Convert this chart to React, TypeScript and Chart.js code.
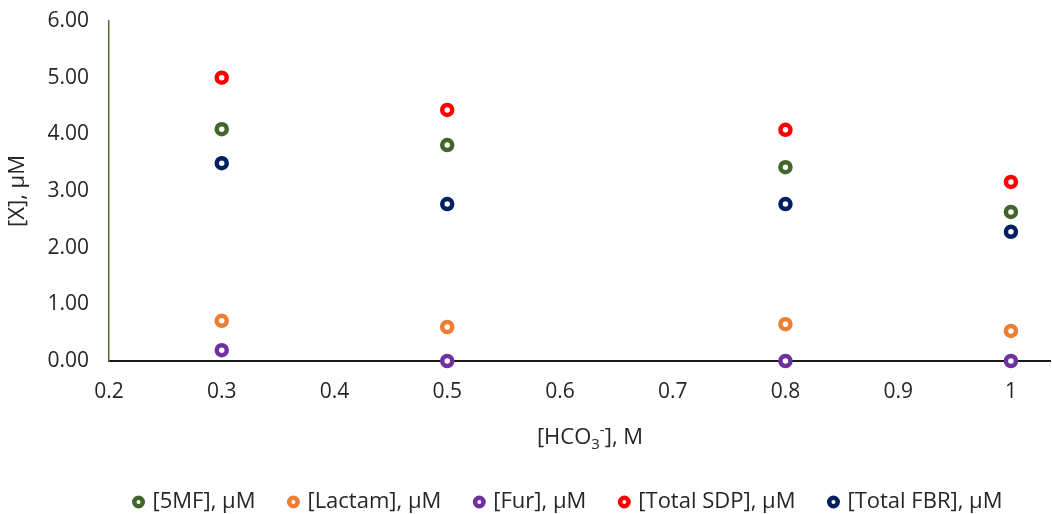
import React, { useEffect, useRef } from "react";
import { Chart, registerables } from "chart.js";

Chart.register(...registerables);

const concentrations = [0.3, 0.5, 0.8, 1.0];
const mf5 = [4.09, 3.81, 3.42, 2.63];
const lactam = [0.71, 0.6, 0.65, 0.53];
const fur = [0.19, 0.0, 0.0, 0.0];
const totalSDP = [5.0, 4.43, 4.08, 3.16];
const totalFBR = [3.49, 2.77, 2.77, 2.28];
const seriesNames = ["[5MF], µM", "[Lactam], µM", "[Fur], µM", "[Total SDP], µM", "[Total FBR], µM"];
const seriesColors = ["#426629", "#ed7d31", "#7030a0", "#ff0000", "#002060"];
const xTicks = [0.2, 0.3, 0.4, 0.5, 0.6, 0.7, 0.8, 0.9, 1];

const FONT = "'Open Sans', 'Noto Sans', sans-serif";
const TEXT = "#262626";
const LEGEND_FONT = 22;
const LEGEND_PAD = 35;

export default function App() {
  const ref = useRef<HTMLCanvasElement | null>(null);
  useEffect(() => {
    document.body.style.margin = "0";
    const seriesValues = [mf5, lactam, fur, totalSDP, totalFBR];
    const datasets = seriesValues.map((vals, i) => ({
      label: seriesNames[i],
      data: vals.map((v, j) => ({ x: concentrations[j], y: v })),
      borderColor: seriesColors[i],
      backgroundColor: "#ffffff",
      pointBackgroundColor: "#ffffff",
      pointBorderColor: seriesColors[i],
      borderWidth: 4,
      pointBorderWidth: 4.5,
      pointRadius: 5,
      pointHoverRadius: 5,
      showLine: false,
      clip: false as any,
    }));
    const xTitlePlugin = {
      id: "xTitle",
      afterLayout(chart: any) {
        const lg = chart.legend;
        if (lg) {
          const newTop = 502 - LEGEND_PAD - LEGEND_FONT / 2;
          lg.top = newTop;
          lg.bottom = 514;
          lg.height = 514 - newTop;
          lg.left += 43;
          lg.right += 43;
        }
      },
      beforeDatasetsDraw(chart: any) {
        const ctx = chart.ctx;
        const a = chart.chartArea;
        ctx.save();
        ctx.strokeStyle = "#1a1a1a";
        ctx.lineWidth = 2;
        ctx.beginPath();
        ctx.moveTo(a.right - 1, a.bottom);
        ctx.lineTo(1051, a.bottom);
        ctx.stroke();
        ctx.restore();
      },
      afterDraw(chart: any) {
        const ctx = chart.ctx;
        ctx.save();
        ctx.fillStyle = TEXT;
        ctx.textBaseline = "alphabetic";
        ctx.textAlign = "left";
        const big = `22px ${FONT}`;
        const small = `15px ${FONT}`;
        const parts = [
          { t: "[HCO", f: big, dy: 0 },
          { t: "3", f: small, dy: 5 },
          { t: "-", f: small, dy: -9 },
          { t: "], M", f: big, dy: 0 },
        ];
        let total = 0;
        parts.forEach((p) => {
          ctx.font = p.f;
          total += ctx.measureText(p.t).width;
        });
        let x = 590 - total / 2;
        const y = 444;
        parts.forEach((p) => {
          ctx.font = p.f;
          ctx.fillText(p.t, x, y + p.dy);
          x += ctx.measureText(p.t).width;
        });
        ctx.restore();
      },
    };
    const chart = new Chart(ref.current!, {
      type: "scatter",
      data: { datasets },
      plugins: [xTitlePlugin],
      options: {
        animation: false,
        responsive: false,
        layout: { padding: { top: 21, right: 0, left: 0, bottom: 0 } },
        plugins: {
          tooltip: { enabled: false },
          legend: {
            position: "bottom",
            maxHeight: 40,
            labels: {
              usePointStyle: true,
              pointStyle: "circle",
              boxWidth: 6,
              boxHeight: 6,
              padding: LEGEND_PAD,
              color: TEXT,
              font: { family: FONT, size: LEGEND_FONT },
            },
          },
        },
        scales: {
          x: {
            type: "linear",
            min: 0.2,
            max: 1.028,
            afterBuildTicks(scale: any) {
              scale.ticks = xTicks.map((v) => ({ value: v }));
            },
            afterFit(scale: any) {
              scale.height = 113;
              scale.paddingLeft = 0;
              scale.paddingRight = 0;
            },
            grid: { display: false, drawTicks: false },
            border: { display: true, color: "#1a1a1a", width: 2 },
            ticks: {
              color: TEXT,
              font: { family: FONT, size: 21 },
              padding: 18,
              maxRotation: 0,
              autoSkip: false,
              callback: (v: any) => String(Math.round(Number(v) * 10) / 10),
            },
          },
          y: {
            min: 0,
            max: 6,
            afterFit(scale: any) {
              scale.width = 109;
              scale.paddingTop = 0;
              scale.paddingBottom = 0;
            },
            grid: { display: false, drawTicks: false },
            border: { display: true, color: "#4f6b30", width: 1.5 },
            ticks: {
              stepSize: 1,
              color: TEXT,
              font: { family: FONT, size: 21 },
              padding: 20,
              callback: (v: any) => Number(v).toFixed(2),
            },
            title: {
              display: true,
              text: "[X], µM",
              color: TEXT,
              font: { family: FONT, size: 22 },
              padding: { top: 5, bottom: 4 },
            },
          },
        },
      },
    });
    return () => chart.destroy();
  }, []);
  return <canvas ref={ref} width={1052} height={514} style={{ display: "block" }} />;
}
